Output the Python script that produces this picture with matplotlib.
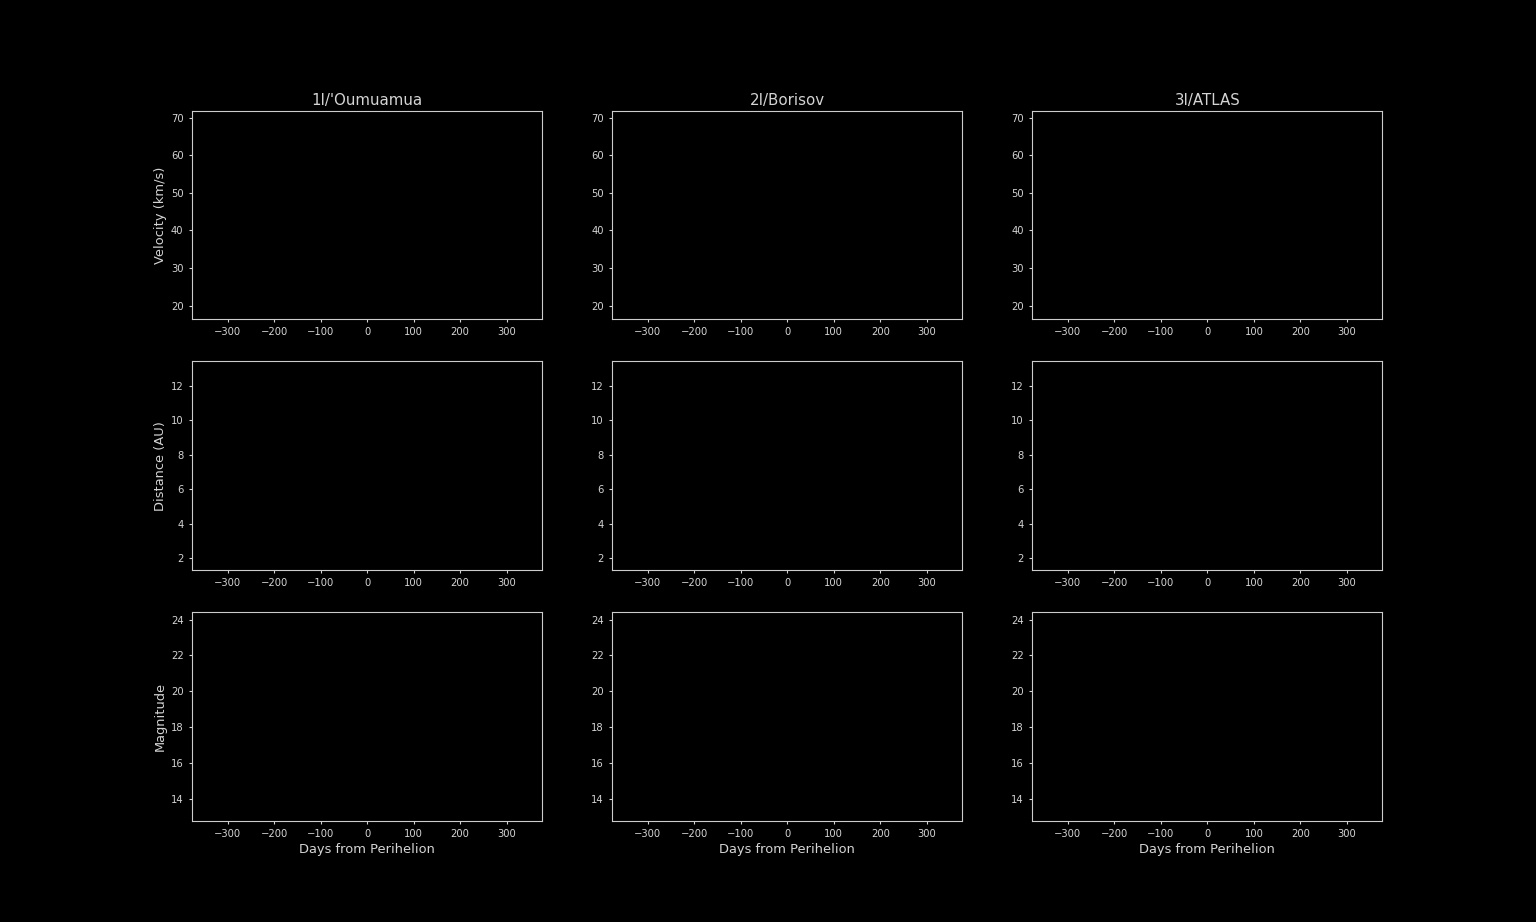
import matplotlib
matplotlib.use("Agg")
import matplotlib.pyplot as plt

objects = ["1I/'Oumuamua", "2I/Borisov", "3I/ATLAS"]
row_labels = ["Velocity (km/s)", "Distance (AU)", "Magnitude"]
x_label = "Days from Perihelion"
x_limits = (-376.5, 376.5)
y_limits = [(16.3, 71.9), (1.3, 13.45), (12.78, 24.44)]
x_ticks = [-300, -200, -100, 0, 100, 200, 300]
y_ticks = [[20, 30, 40, 50, 60, 70], [2, 4, 6, 8, 10, 12], [14, 16, 18, 20, 22, 24]]

plt.style.use("dark_background")
txt = "#d4d4d4"
plt.rcParams.update({
    "text.color": txt,
    "axes.labelcolor": txt,
    "xtick.color": txt,
    "ytick.color": txt,
    "axes.edgecolor": "#cccccc",
    "axes.linewidth": 1.1,
    "xtick.major.width": 1.1,
    "ytick.major.width": 1.1,
    "xtick.labelsize": 10,
    "ytick.labelsize": 10,
    "xtick.major.size": 3,
    "ytick.major.size": 3,
    "xtick.major.pad": 5,
    "ytick.major.pad": 5.5,
})

DPI = 72
fig, axes = plt.subplots(3, 3, figsize=(1536 / DPI, 922 / DPI), dpi=DPI)
for r in range(3):
    for c in range(3):
        ax = axes[r, c]
        ax.set_xlim(*x_limits)
        ax.set_ylim(*y_limits[r])
        ax.set_xticks(x_ticks)
        ax.set_yticks(y_ticks[r])
        if r == 0:
            ax.set_title(objects[c], fontsize=15, color=txt)
        if c == 0:
            ax.set_ylabel(row_labels[r], fontsize=13)
        if r == 2:
            ax.set_xlabel(x_label, fontsize=13)

fig.savefig("out.png", dpi=DPI, facecolor="black")
